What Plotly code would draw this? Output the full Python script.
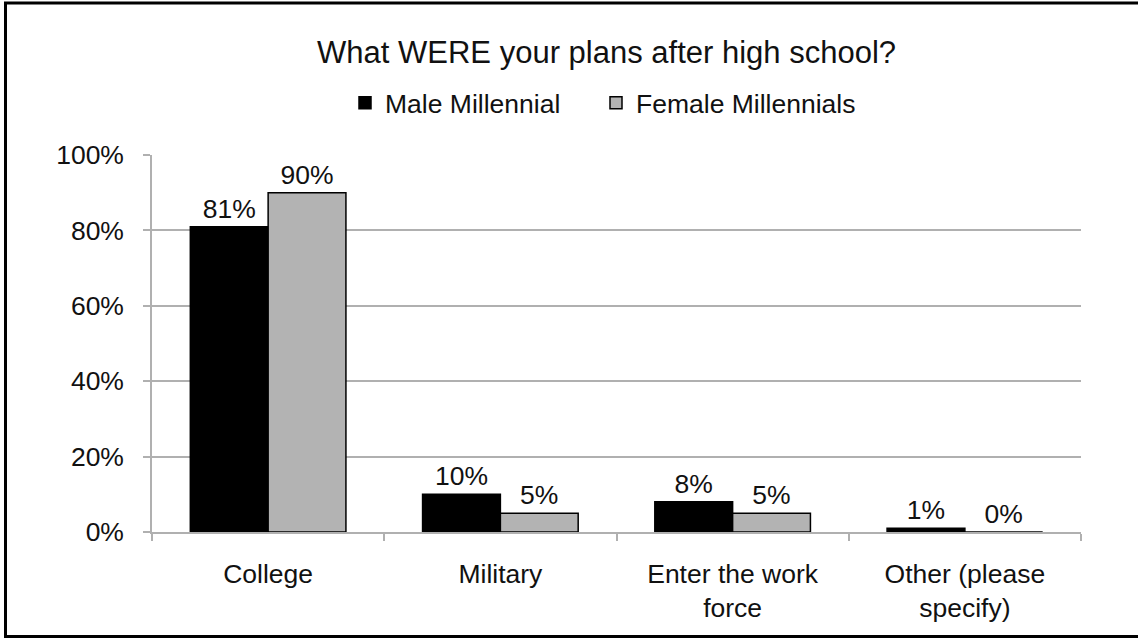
import plotly.graph_objects as go

categories = ["College", "Military", "Enter the work<br>force", "Other (please<br>specify)"]
male_values = [81, 10, 8, 1]
female_values = [90, 5, 5, 0]
series_names = ["Male Millennial", "Female Millennials"]
y_ticks = [0, 20, 40, 60, 80, 100]
y_tick_labels = ["0%", "20%", "40%", "60%", "80%", "100%"]

W, H = 1138, 638
ML, MR, MT, MB = 152, 57, 155, 106
PW, PH = W - ML - MR, H - MT - MB

font = "Liberation Sans, Arial, sans-serif"
ink = "#111111"
fs = 26.5

fig = go.Figure()
fig.add_trace(go.Bar(
    x=categories, y=male_values, name=series_names[0],
    legend="legend", showlegend=True,
    marker=dict(color="#000000", line=dict(color="#000000", width=1.5)),
    text=[f"{v}%" for v in male_values], textposition="outside",
    textfont=dict(size=fs, color=ink, family=font),
    cliponaxis=False,
))
fig.add_trace(go.Bar(
    x=categories, y=female_values, name=series_names[1],
    legend="legend2", showlegend=True,
    marker=dict(color="#b3b3b3", line=dict(color="#000000", width=1.5)),
    text=[f"{v}%" for v in female_values], textposition="outside",
    textfont=dict(size=fs, color=ink, family=font),
    cliponaxis=False,
))

def px_x(v):
    return (v - ML) / PW

def px_y(v):
    return (H - MB - v) / PH

legend_style = dict(orientation="h", xanchor="left", y=px_y(103), yanchor="middle",
                    font=dict(size=fs, family=font, color=ink),
                    itemwidth=30, bgcolor="rgba(0,0,0,0)")

fig.update_layout(
    width=W, height=H, showlegend=True,
    margin=dict(l=ML, r=MR, t=MT, b=MB, autoexpand=False),
    paper_bgcolor="white", plot_bgcolor="white",
    barmode="group", bargap=0.33, bargroupgap=0,
    font=dict(family=font, size=fs, color=ink),
    title=dict(text="What WERE your plans after high school?",
               x=0.533, xanchor="center", y=1 - 52 / H, yanchor="middle",
               font=dict(size=31, color=ink, family=font)),
    legend=dict(x=px_x(345), **legend_style),
    legend2=dict(x=px_x(596), **legend_style),
    yaxis=dict(range=[0, 100], tickvals=y_ticks, ticktext=y_tick_labels,
               showgrid=True, gridcolor="#b0b0b0", gridwidth=1.5,
               showline=True, linecolor="#b0b0b0", linewidth=1.5,
               ticks="outside", ticklen=7, tickcolor="#b0b0b0", tickwidth=1.5,
               ticklabelstandoff=14, zeroline=False,
               tickfont=dict(size=fs, family=font, color=ink)),
    xaxis=dict(showline=True, linecolor="#b0b0b0", linewidth=1.5,
               ticks="outside", tickson="boundaries", ticklen=7,
               tickcolor="#b0b0b0", tickwidth=1.5, ticklabelstandoff=17,
               tickfont=dict(size=fs, family=font, color=ink)),
    shapes=[
        dict(type="rect", xref="paper", yref="paper",
             x0=px_x(5.5), x1=px_x(1145), y0=px_y(636.5), y1=px_y(3),
             line=dict(color="#000000", width=3), fillcolor="rgba(0,0,0,0)",
             layer="above"),
    ],
)

fig.write_html("out.html")
